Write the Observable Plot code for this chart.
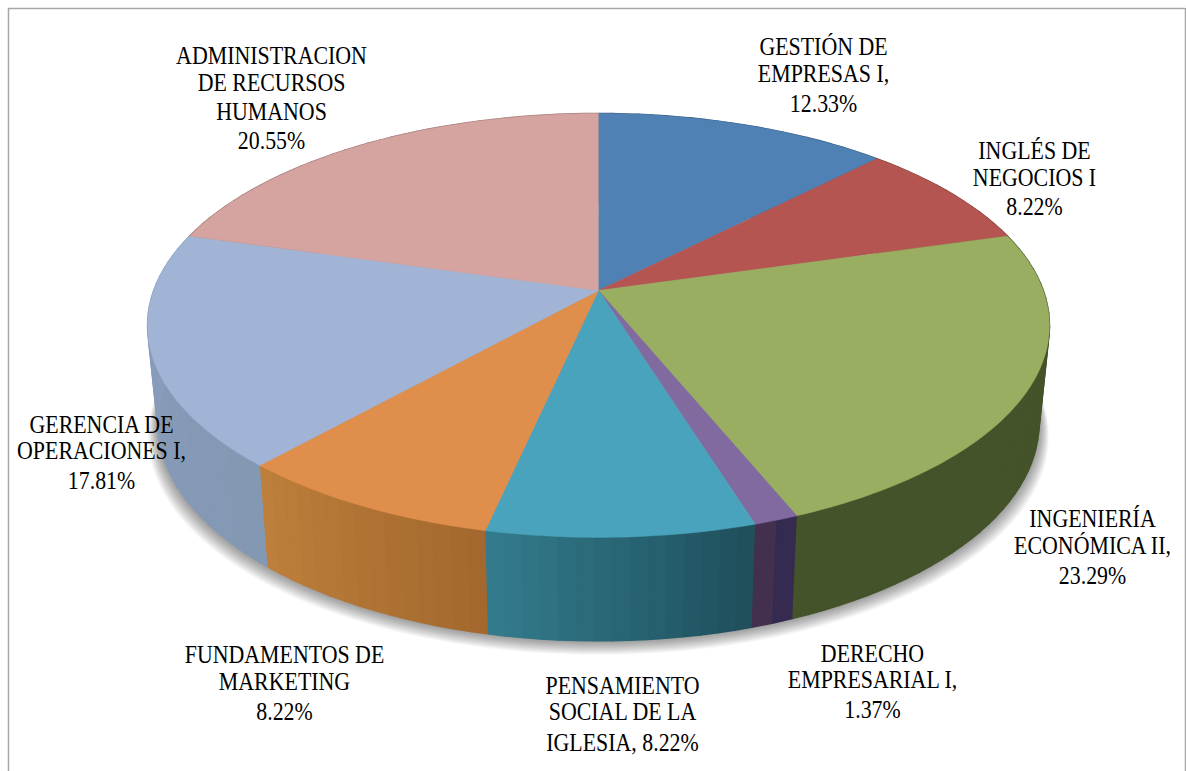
<!DOCTYPE html>
<html><head><meta charset="utf-8">
<script src="https://cdn.jsdelivr.net/npm/d3@7"></script>
<script src="https://cdn.jsdelivr.net/npm/@observablehq/plot@0.6"></script>
<style>html,body{margin:0;padding:0;background:#fff;overflow:hidden}svg{display:block}</style>
</head><body><div id="chart"></div>
<script>
// Data (clockwise from 12 o'clock)
const categories = ["GESTIÓN DE EMPRESAS I","INGLÉS DE NEGOCIOS I","INGENIERÍA ECONÓMICA II","DERECHO EMPRESARIAL I","PENSAMIENTO SOCIAL DE LA IGLESIA","FUNDAMENTOS DE MARKETING","GERENCIA DE OPERACIONES I","ADMINISTRACION DE RECURSOS HUMANOS"];
const shares = [12.33,8.22,23.29,1.37,8.22,8.22,17.81,20.55];
const topColors = ["#4f81b5","#b55552","#99ae61","#816a9f","#4aa3bc","#e08e4c","#a1b4d6","#d5a3a0"];
const sideFrom = ["#3a5f85","#853f3d","#44532a","#43304f","#337b8c","#bd7f3b","#8b9ebf","#9c7876"];
const sideTo   = ["#3a5f85","#853f3d","#44532a","#352a4f","#1f505c","#a4682e","#8398b3","#9c7876"];
const labelLines = [
  ["GESTIÓN DE","EMPRESAS I,","12.33%"],["INGLÉS DE","NEGOCIOS I","8.22%"],["INGENIERÍA","ECONÓMICA II,","23.29%"],
  ["DERECHO","EMPRESARIAL I,","1.37%"],["PENSAMIENTO","SOCIAL DE LA","IGLESIA, 8.22%"],["FUNDAMENTOS DE","MARKETING","8.22%"],
  ["GERENCIA DE","OPERACIONES I,","17.81%"],["ADMINISTRACION","DE RECURSOS","HUMANOS","20.55%"]];

// Layout
const W = 1186, H = 771;
const labelX = [823,1034,1092,872,622,284,101,271];
const labelY = [[46,73,103],[150,177,206],[518,545,575],[653,679,709],[685,711,742],[654,681,711],[424,450,480],[55,82,111,140]];
const cx = 598, cy = 290, A = 444.8, B = 206.2, k = 0.165;   // perspective of the pie's top face
const depthScale = 0.977;

const project = a => { const w = 1 + k*Math.cos(a); return [cx + A*Math.sin(a)/w, cy - B*Math.cos(a)/w]; };
const lower = ([X,Y]) => [cx + depthScale*(X-cx), Y + 103.4 - (537-Y)*0.03];

const arcs = d3.pie().sort(null).startAngle(0).endAngle(2*Math.PI)(shares);
const step = Math.PI/180;
const faces = [], sides = [], shadow = [];
arcs.forEach((arc,i) => {
  const span = arc.endAngle-arc.startAngle;
  const n = Math.max(2, Math.ceil(span/step));
  faces.push({x:cx,y:cy,z:categories[i],fill:topColors[i]});
  for (let j=0;j<=n;j++){ const [x,y]=project(arc.startAngle+span*j/n); faces.push({x,y,z:categories[i],fill:topColors[i]}); }
  const bands = Math.max(2, Math.round(span/(2*step)));
  const mix = d3.interpolateLab(sideFrom[i],sideTo[i]);
  for (let b=0;b<bands;b++){
    const a0=arc.startAngle+span*b/bands, a1=arc.startAngle+span*(b+1)/bands;
    const col=d3.color(mix(1-b/(bands-1))).formatHex(), z=i+"-"+b;
    const pts=[project(a0),project(a1)];
    [...pts,...pts.slice().reverse().map(lower)].forEach(([x,y])=>sides.push({x,y,z,fill:col}));
  }
});
for(let s=1;s<=14;s++) for(let d=0;d<360;d+=2){
  const [x,y]=lower(project(d*step));
  shadow.push({x:cx+(x-cx)*(1+0.7*s/441),y:y+s,z:s});
}
const labels = labelLines.flatMap((ls,i)=>ls.map((text,j)=>({text,x:labelX[i],y:labelY[i][j]})));

const svg = Plot.plot({
  width:W,height:H,margin:0,
  x:{domain:[0,W],range:[0,W],axis:null},
  y:{domain:[0,H],range:[0,H],axis:null},
  color:{type:"identity"},
  marks:[
    Plot.ruleX([8,1185],{stroke:"#a6a6a6",strokeWidth:1.5,y1:8,y2:H}),
    Plot.ruleY([8],{stroke:"#a6a6a6",strokeWidth:1.5,x1:8,x2:1185}),
    Plot.line(shadow,{x:"x",y:"y",z:"z",fill:"#000",fillOpacity:0.03,stroke:"none"}),
    Plot.line(sides,{x:"x",y:"y",z:"z",fill:"fill",stroke:"fill",strokeWidth:1.5}),
    Plot.line(faces,{x:"x",y:"y",z:"z",fill:"fill",stroke:"fill",strokeWidth:0.4}),
    Plot.text(labels,{x:"x",y:"y",text:"text",textAnchor:"middle",lineAnchor:"middle",fill:"#000",
      fontFamily:"'Liberation Serif',serif",fontSize:25})
  ]
});
document.getElementById("chart").appendChild(svg);
// The reference face is narrower than Liberation Serif: condense the glyphs
svg.querySelectorAll("text").forEach(t=>{
  const len=t.getComputedTextLength();
  t.setAttribute("textLength",(len*0.875).toFixed(1));
  t.setAttribute("lengthAdjust","spacingAndGlyphs");
});
</script></body></html>
